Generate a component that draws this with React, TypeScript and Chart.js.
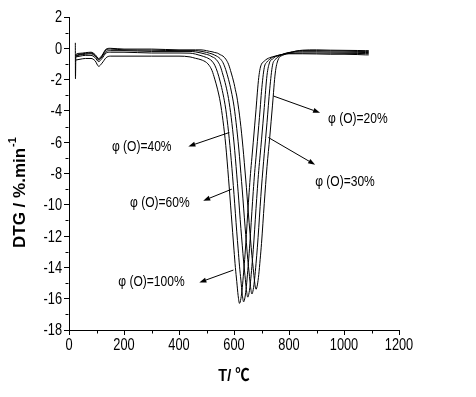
import React, { useEffect, useRef } from "react";
import { Chart, registerables } from "chart.js";

Chart.register(...registerables);

// Temperature grid (°C)
const temps = [23, 23.5, 25, 40, 60, 80, 95, 108, 120, 135, 150, 200, 300, 400, 440, 460, 480, 500, 510, 520, 530, 540, 550, 560, 570, 580, 590, 600, 605, 610, 615, 620, 625, 630, 635, 640, 645, 650, 655, 660, 665, 670, 675, 680, 685, 690, 695, 700, 710, 720, 730, 740, 750, 760, 780, 800, 850, 900, 950, 1000, 1050, 1078, 1090];

// DTG (%/min) per oxygen fraction
const dtg100 = [null, null, -0.75, -0.7, -0.65, -0.65, -0.8, -1.15, -0.95, -0.6, -0.5, -0.5, -0.5, -0.5, -0.55, -0.64, -0.73, -0.91, -1.1, -1.42, -1.97, -2.61, -3.43, -4.63, -6.2, -8.3, -10.6, -12.9, -14.0, -14.9, -15.8, -16.3, -16.0, -15.3, -14.3, -13.2, -11.9, -10.5, -9.2, -8.0, -7.0, -6.0, -4.96, -3.93, -2.8, -1.86, -1.29, -1.01, -0.82, -0.68, -0.6, -0.54, -0.5, -0.45, -0.38, -0.35, -0.35, -0.36, -0.38, -0.38, -0.4, -0.42, -0.42];
const dtg60 = [null, null, -0.55, -0.5, -0.45, -0.45, -0.6, -0.85, -0.65, -0.3, -0.25, -0.25, -0.3, -0.3, -0.31, -0.37, -0.47, -0.59, -0.68, -0.82, -1.08, -1.53, -2.15, -2.91, -3.89, -5.33, -7.16, -9.34, -10.54, -11.73, -12.82, -13.92, -14.81, -15.71, -16.2, -15.9, -15.21, -14.21, -13.12, -11.83, -10.44, -9.14, -7.95, -6.96, -5.96, -4.93, -3.89, -2.75, -1.24, -0.87, -0.7, -0.58, -0.51, -0.46, -0.38, -0.33, -0.3, -0.3, -0.31, -0.32, -0.33, -0.34, -0.34];
const dtg40 = [null, null, -0.5, -0.42, -0.38, -0.35, -0.5, -0.75, -0.55, -0.2, -0.15, -0.15, -0.2, -0.2, -0.2, -0.23, -0.3, -0.39, -0.44, -0.54, -0.63, -0.82, -1.14, -1.71, -2.36, -3.21, -4.44, -6.05, -7.02, -8.09, -9.17, -10.34, -11.51, -12.58, -13.65, -14.53, -15.41, -15.9, -15.6, -14.92, -13.94, -12.87, -11.6, -10.24, -8.97, -7.8, -6.83, -5.85, -3.79, -1.72, -0.87, -0.69, -0.54, -0.48, -0.37, -0.28, -0.22, -0.22, -0.24, -0.25, -0.26, -0.27, -0.27];
const dtg30 = [null, null, -0.45, -0.38, -0.32, -0.3, -0.45, -0.7, -0.5, -0.1, -0.05, -0.1, -0.12, -0.15, -0.15, -0.15, -0.19, -0.26, -0.31, -0.36, -0.44, -0.53, -0.67, -0.92, -1.37, -1.98, -2.73, -3.7, -4.37, -5.13, -5.97, -6.93, -7.99, -9.05, -10.21, -11.36, -12.42, -13.48, -14.35, -15.22, -15.7, -15.41, -14.73, -13.77, -12.71, -11.46, -10.11, -8.86, -6.74, -4.75, -2.59, -1.08, -0.72, -0.55, -0.36, -0.27, -0.15, -0.15, -0.17, -0.18, -0.2, -0.2, -0.2];
const dtg20 = [0.35, -1.95, -0.4, -0.32, -0.28, -0.25, -0.4, -0.65, -0.45, -0.05, 0.0, -0.05, -0.05, -0.1, -0.1, -0.1, -0.1, -0.15, -0.19, -0.22, -0.27, -0.31, -0.41, -0.5, -0.69, -1.02, -1.58, -2.23, -2.65, -3.05, -3.62, -4.27, -5.01, -5.86, -6.8, -7.84, -8.88, -10.02, -11.15, -12.19, -13.23, -14.08, -14.93, -15.4, -15.12, -14.46, -13.51, -12.47, -9.92, -7.56, -5.67, -3.63, -1.58, -0.75, -0.43, -0.29, -0.12, -0.1, -0.12, -0.13, -0.14, -0.15, -0.15];

const seriesList = [dtg100, dtg60, dtg40, dtg30, dtg20];

// Axis ticks
const xMajor = [0, 200, 400, 600, 800, 1000, 1200];
const xMinor = [100, 300, 500, 700, 900, 1100];
const yMajor = [2, 0, -2, -4, -6, -8, -10, -12, -14, -16, -18];
const yMinor = [1, -1, -3, -5, -7, -9, -11, -13, -15, -17];

// Callout labels (data coordinates)
const calloutText = ["φ (O)=20%", "φ (O)=30%", "φ (O)=40%", "φ (O)=60%", "φ (O)=100%"];
const calloutFromT = [742, 725, 583, 592, 598];
const calloutFromV = [-3.04, -5.7, -5.38, -9.0, -14.17];
const calloutToT = [913, 895, 434, 488, 474];
const calloutToV = [-4.12, -7.44, -6.27, -9.74, -14.96];
const calloutLabelT = [942, 895, 156, 222, 179];
const calloutLabelV = [-4.52, -8.57, -6.29, -9.92, -14.92];

const SANS = "'Liberation Sans', Arial, sans-serif";

function narrowText(ctx: any, text: string, x: number, y: number, sx: number, align: string) {
  ctx.save();
  ctx.translate(x, y);
  ctx.scale(sx, 1);
  ctx.textAlign = align;
  ctx.fillText(text, 0, 0);
  ctx.restore();
}

const decorPlugin = {
  id: "decor",
  afterDraw(chart: any) {
    const { ctx, scales } = chart;
    const x = scales.x;
    const y = scales.y;
    const area = chart.chartArea;
    ctx.save();
    ctx.strokeStyle = "#000";
    ctx.fillStyle = "#000";
    ctx.lineWidth = 1;
    const by = Math.round(area.bottom) + 0.5;
    const lx = Math.round(area.left) - 0.5;
    // minor ticks
    for (const t of xMinor) {
      const px = Math.round(x.getPixelForValue(t)) + 0.5;
      ctx.beginPath();
      ctx.moveTo(px, by);
      ctx.lineTo(px, by + 3);
      ctx.stroke();
    }
    for (const v of yMinor) {
      const py = Math.round(y.getPixelForValue(v)) + 0.5;
      ctx.beginPath();
      ctx.moveTo(lx, py);
      ctx.lineTo(lx - 3, py);
      ctx.stroke();
    }
    // tick labels (narrow)
    ctx.font = "16px " + SANS;
    ctx.textBaseline = "middle";
    for (const v of yMajor) {
      narrowText(ctx, String(v), 62, y.getPixelForValue(v) + 1, 0.8, "right");
    }
    for (const t of xMajor) {
      narrowText(ctx, String(t), x.getPixelForValue(t), 346, 0.8, "center");
    }
    // callouts
    ctx.font = "14px " + SANS;
    ctx.textBaseline = "middle";
    for (let i = 0; i < calloutText.length; i++) {
      const x1 = x.getPixelForValue(calloutFromT[i]);
      const y1 = y.getPixelForValue(calloutFromV[i]);
      const x2 = x.getPixelForValue(calloutToT[i]);
      const y2 = y.getPixelForValue(calloutToV[i]);
      const ang = Math.atan2(y2 - y1, x2 - x1);
      const len = 7;
      const hw = 2.5;
      const bx = x2 - len * Math.cos(ang);
      const byy = y2 - len * Math.sin(ang);
      ctx.beginPath();
      ctx.moveTo(x1, y1);
      ctx.lineTo(bx, byy);
      ctx.stroke();
      ctx.beginPath();
      ctx.moveTo(x2, y2);
      ctx.lineTo(bx + hw * Math.sin(ang), byy - hw * Math.cos(ang));
      ctx.lineTo(bx - hw * Math.sin(ang), byy + hw * Math.cos(ang));
      ctx.closePath();
      ctx.fill();
      narrowText(ctx, calloutText[i], x.getPixelForValue(calloutLabelT[i]), y.getPixelForValue(calloutLabelV[i]), 0.86, "left");
    }
    // x title
    ctx.font = "bold 17px " + SANS + ", 'Noto Sans CJK SC'";
    narrowText(ctx, "T/ ℃", 234, 376, 0.85, "center");
    // y title
    ctx.save();
    ctx.translate(25, 248);
    ctx.rotate(-Math.PI / 2);
    ctx.textAlign = "left";
    ctx.textBaseline = "alphabetic";
    ctx.font = "bold 17px " + SANS;
    const main = "DTG / %.min";
    ctx.fillText(main, 0, 0);
    const w = ctx.measureText(main).width;
    ctx.font = "bold 11px " + SANS;
    ctx.fillText("-1", w + 1, -9);
    ctx.restore();
    ctx.restore();
  },
};

export default function App() {
  const ref = useRef<HTMLCanvasElement>(null);
  useEffect(() => {
    if (!ref.current) return;
    const datasets = seriesList.map((vals) => ({
      data: temps.map((t, i) => ({ x: t, y: vals[i] })),
      borderColor: "#000",
      borderWidth: 1,
      pointRadius: 0,
      fill: false,
      cubicInterpolationMode: "monotone" as const,
      spanGaps: false,
    }));
    const chart = new Chart(ref.current, {
      type: "line",
      data: { datasets },
      options: {
        responsive: false,
        animation: false,
        events: [],
        layout: { padding: { top: 17, right: 77, bottom: 0, left: 0 } },
        plugins: { legend: { display: false }, tooltip: { enabled: false }, title: { display: false } },
        scales: {
          x: {
            type: "linear",
            min: 0,
            max: 1200,
            afterFit: (s: any) => {
              s.height = 67;
            },
            afterBuildTicks: (s: any) => {
              s.ticks = xMajor.map((v) => ({ value: v }));
            },
            ticks: { color: "rgba(0,0,0,0)", callback: (v: any) => String(v), font: { size: 16 }, padding: 2, maxRotation: 0, autoSkip: false },
            grid: { drawOnChartArea: false, drawTicks: true, tickLength: 5, color: "#000" },
            border: { display: true, color: "#000", width: 1 },
          },
          y: {
            type: "linear",
            min: -18,
            max: 2,
            afterFit: (s: any) => {
              s.width = 69;
            },
            afterBuildTicks: (s: any) => {
              s.ticks = yMajor.map((v) => ({ value: v }));
            },
            ticks: { color: "rgba(0,0,0,0)", callback: (v: any) => String(v), font: { size: 16 }, padding: 2, autoSkip: false },
            grid: { drawOnChartArea: false, drawTicks: true, tickLength: 5, color: "#000" },
            border: { display: true, color: "#000", width: 1 },
          },
        },
      },
      plugins: [decorPlugin],
    });
    return () => chart.destroy();
  }, []);
  return (
    <div style={{ position: "absolute", left: 0, top: 0, width: 476, height: 397, background: "#fff" }}>
      <canvas ref={ref} width={476} height={397} style={{ width: 476, height: 397 }} />
    </div>
  );
}
